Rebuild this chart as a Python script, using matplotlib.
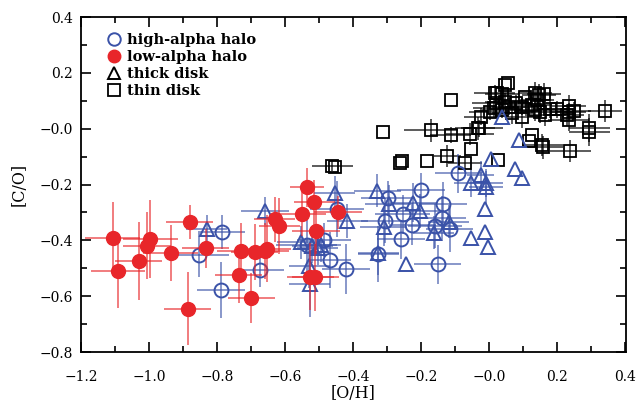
import matplotlib
matplotlib.use("Agg")
import matplotlib.pyplot as plt
from matplotlib.lines import Line2D
import numpy as np

plt.rcParams['font.family'] = ['DejaVu Serif']

BLUE = '#3a52a8'
RED = '#e8262a'

# low-alpha halo: x, y, xerr, yerr
low_x = [-1.107, -1.092, -1.031, -0.996, -1.007, -0.937, -0.881, -0.887, -0.834, -0.731,
         -0.737, -0.699, -0.690, -0.654, -0.660, -0.631, -0.617, -0.550, -0.537, -0.515,
         -0.509, -0.444, -0.526, -0.511]
low_y = [-0.393, -0.511, -0.474, -0.395, -0.420, -0.446, -0.335, -0.645, -0.428, -0.437,
         -0.525, -0.607, -0.443, -0.431, -0.439, -0.325, -0.348, -0.306, -0.210, -0.264,
         -0.368, -0.300, -0.530, -0.532]
low_xe = [0.08, 0.08, 0.07, 0.08, 0.07, 0.08, 0.07, 0.07, 0.07, 0.07,
          0.07, 0.07, 0.07, 0.07, 0.07, 0.06, 0.06, 0.07, 0.05, 0.06,
          0.07, 0.07, 0.07, 0.07]
low_ye = [0.13, 0.13, 0.14, 0.14, 0.12, 0.10, 0.06, 0.13, 0.07, 0.10,
          0.10, 0.09, 0.10, 0.12, 0.10, 0.08, 0.10, 0.08, 0.07, 0.08,
          0.08, 0.06, 0.12, 0.12]

# high-alpha halo
high_x = [-0.787, -0.854, -0.789, -0.673, -0.537, -0.486, -0.467, -0.421, -0.447, -0.326,
          -0.091, -0.200, -0.298, -0.136, -0.255, -0.140, -0.308, -0.226, -0.160, -0.117,
          -0.259, -0.152]
high_y = [-0.371, -0.453, -0.578, -0.506, -0.418, -0.398, -0.471, -0.504, -0.289, -0.450,
          -0.160, -0.220, -0.247, -0.270, -0.307, -0.321, -0.330, -0.345, -0.349, -0.360,
          -0.396, -0.486]
high_xe = [0.07, 0.09, 0.07, 0.07, 0.09, 0.08, 0.06, 0.07, 0.08, 0.06,
           0.07, 0.07, 0.08, 0.07, 0.08, 0.07, 0.07, 0.07, 0.08, 0.07,
           0.07, 0.07]
high_ye = [0.06, 0.08, 0.10, 0.06, 0.10, 0.06, 0.10, 0.09, 0.10, 0.10,
           0.07, 0.06, 0.06, 0.08, 0.07, 0.08, 0.08, 0.07, 0.08, 0.08,
           0.07, 0.07]

# thick disk
thick_x = [-0.831, -0.660, -0.455, -0.418, -0.554, -0.529, -0.528, -0.505, -0.520, -0.495,
           -0.329, -0.295, -0.223, -0.204, -0.119, -0.311, -0.163, -0.053, -0.014, -0.004,
           -0.244, -0.326, 0.006, 0.074, 0.096, -0.026, -0.053, -0.009, -0.011, -0.014,
           0.038, 0.086]
thick_y = [-0.359, -0.294, -0.229, -0.331, -0.407, -0.491, -0.556, -0.428, -0.420, -0.418,
           -0.222, -0.270, -0.265, -0.295, -0.333, -0.351, -0.372, -0.393, -0.371, -0.423,
           -0.486, -0.445, -0.110, -0.144, -0.176, -0.166, -0.193, -0.196, -0.210, -0.288,
           0.043, -0.041]
thick_xe = [0.06, 0.07, 0.06, 0.06, 0.07, 0.06, 0.06, 0.06, 0.06, 0.06,
            0.07, 0.07, 0.07, 0.07, 0.06, 0.07, 0.06, 0.0, 0.0, 0.0,
            0.0, 0.06, 0.0, 0.0, 0.0, 0.04, 0.05, 0.05, 0.05, 0.0,
            0.0, 0.0]
thick_ye = [0.05, 0.05, 0.06, 0.06, 0.06, 0.08, 0.12, 0.06, 0.06, 0.06,
            0.06, 0.07, 0.07, 0.06, 0.06, 0.07, 0.06, 0.0, 0.0, 0.0,
            0.0, 0.08, 0.0, 0.0, 0.0, 0.05, 0.05, 0.05, 0.06, 0.0,
            0.0, 0.0]

# thin disk
thin_x = [-0.461, -0.455, -0.314, -0.263, -0.256, -0.184, -0.171, -0.124, -0.114, -0.114,
          -0.073, -0.057, -0.053, -0.034, -0.025, 0.026, 0.001, 0.013, 0.016, 0.023,
          0.037, 0.038, 0.047, 0.055, 0.057, 0.067, 0.077, 0.047, 0.018, 0.096,
          0.096, 0.106, 0.125, 0.135, 0.145, 0.160, 0.140, 0.135, 0.150, 0.164,
          0.179, 0.199, 0.116, 0.125, 0.155, 0.157, 0.233, 0.248, 0.233, 0.228,
          0.233, 0.294, 0.294, 0.238, 0.340, -0.031]
thin_y = [-0.133, -0.138, -0.011, -0.124, -0.116, -0.116, -0.006, -0.098, 0.103, -0.023,
          -0.124, -0.019, -0.074, 0.001, 0.043, -0.113, 0.061, 0.073, 0.127, 0.127,
          0.124, 0.067, 0.157, 0.163, 0.079, 0.055, 0.091, 0.097, 0.091, 0.041,
          0.079, 0.115, 0.085, 0.127, 0.121, 0.123, 0.103, 0.067, 0.061, 0.049,
          0.069, 0.069, -0.043, -0.023, -0.058, -0.067, 0.082, 0.064, 0.061, 0.049,
          0.031, 0.001, -0.011, -0.079, 0.064, 0.001]
thin_xe = [0.06, 0.0, 0.0, 0.0, 0.0, 0.0, 0.08, 0.04, 0.0, 0.06,
           0.05, 0.07, 0.0, 0.05, 0.05, 0.0, 0.06, 0.06, 0.06, 0.0,
           0.05, 0.06, 0.0, 0.0, 0.05, 0.06, 0.05, 0.06, 0.07, 0.05,
           0.05, 0.0, 0.06, 0.05, 0.05, 0.05, 0.05, 0.06, 0.06, 0.06,
           0.05, 0.05, 0.0, 0.0, 0.06, 0.06, 0.05, 0.05, 0.05, 0.05,
           0.06, 0.06, 0.06, 0.06, 0.05, 0.07]
thin_ye = [0.02, 0.0, 0.0, 0.0, 0.0, 0.0, 0.04, 0.04, 0.0, 0.03,
           0.03, 0.04, 0.0, 0.04, 0.03, 0.0, 0.03, 0.03, 0.03, 0.0,
           0.03, 0.03, 0.0, 0.0, 0.03, 0.04, 0.03, 0.03, 0.03, 0.04,
           0.03, 0.0, 0.03, 0.04, 0.04, 0.04, 0.04, 0.04, 0.04, 0.04,
           0.03, 0.03, 0.0, 0.0, 0.04, 0.04, 0.04, 0.03, 0.03, 0.04,
           0.04, 0.05, 0.05, 0.04, 0.04, 0.03]

labels = ['high-alpha halo', 'low-alpha halo', 'thick disk', 'thin disk']

fig = plt.figure(figsize=(6.37, 4.08), dpi=100)
ax = fig.add_axes([81 / 637, 1 - 352 / 408, (625.5 - 81) / 637, (352 - 17) / 408])

# thin disk
ax.errorbar(thin_x, thin_y, xerr=thin_xe, yerr=thin_ye, fmt='none',
            ecolor='black', elinewidth=1.2, alpha=0.75, zorder=2)
ax.plot(thin_x, thin_y, 's', ms=8, mfc='none', mec='black', mew=1.3, zorder=3)

# thick disk
ax.errorbar(thick_x, thick_y, xerr=thick_xe, yerr=thick_ye, fmt='none',
            ecolor=BLUE, elinewidth=1.2, alpha=0.7, zorder=2)
ax.plot(thick_x, thick_y, '^', ms=10, mfc='none', mec=BLUE, mew=1.4, zorder=3)

# high-alpha halo
ax.errorbar(high_x, high_y, xerr=high_xe, yerr=high_ye, fmt='none',
            ecolor=BLUE, elinewidth=1.2, alpha=0.7, zorder=2)
ax.plot(high_x, high_y, 'o', ms=10, mfc='none', mec=BLUE, mew=1.4, zorder=3)

# low-alpha halo
ax.errorbar(low_x, low_y, xerr=low_xe, yerr=low_ye, fmt='none',
            ecolor=RED, elinewidth=1.2, alpha=0.7, zorder=4)
ax.plot(low_x, low_y, 'o', ms=10, mfc=RED, mec=RED, zorder=5)

ax.set_xlim(-1.2, 0.4)
ax.set_ylim(-0.8, 0.4)
ax.set_xticks(np.arange(-1.2, 0.41, 0.2))
ax.set_yticks(np.arange(-0.8, 0.41, 0.2))
ax.set_xticks(np.arange(-1.2, 0.41, 0.1), minor=True)
ax.set_yticks(np.arange(-0.8, 0.41, 0.1), minor=True)
fmt = matplotlib.ticker.FuncFormatter(lambda v, p: f'{v:.1f}'.replace('-', '\u2212'))
ax.xaxis.set_major_formatter(fmt)
ax.yaxis.set_major_formatter(fmt)
ax.tick_params(which='both', direction='in', top=True, right=True, labelsize=10, width=1.2)
ax.tick_params(which='major', length=7)
ax.tick_params(which='minor', length=4)
ax.tick_params(axis='x', which='major', pad=13)
ax.tick_params(axis='y', which='major', pad=6)
for s in ax.spines.values():
    s.set_linewidth(1.3)

ax.set_xlabel('[O/H]', fontsize=11.5, labelpad=1)
ax.set_ylabel('[C/O]', fontsize=11.5, labelpad=8)

handles = [
    Line2D([], [], ls='none', marker='o', ms=9, mfc='none', mec=BLUE, mew=1.4),
    Line2D([], [], ls='none', marker='o', ms=9, mfc=RED, mec=RED),
    Line2D([], [], ls='none', marker='^', ms=9, mfc='none', mec='black', mew=1.4),
    Line2D([], [], ls='none', marker='s', ms=8, mfc='none', mec='black', mew=1.3),
]
ax.legend(handles, labels, loc='upper left', bbox_to_anchor=(0.02, 0.99), frameon=False,
          handletextpad=0.3, labelspacing=0.2, handlelength=1.2,
          prop={'weight': 'bold', 'size': 10.5})

fig.savefig('out.png', dpi=100)
